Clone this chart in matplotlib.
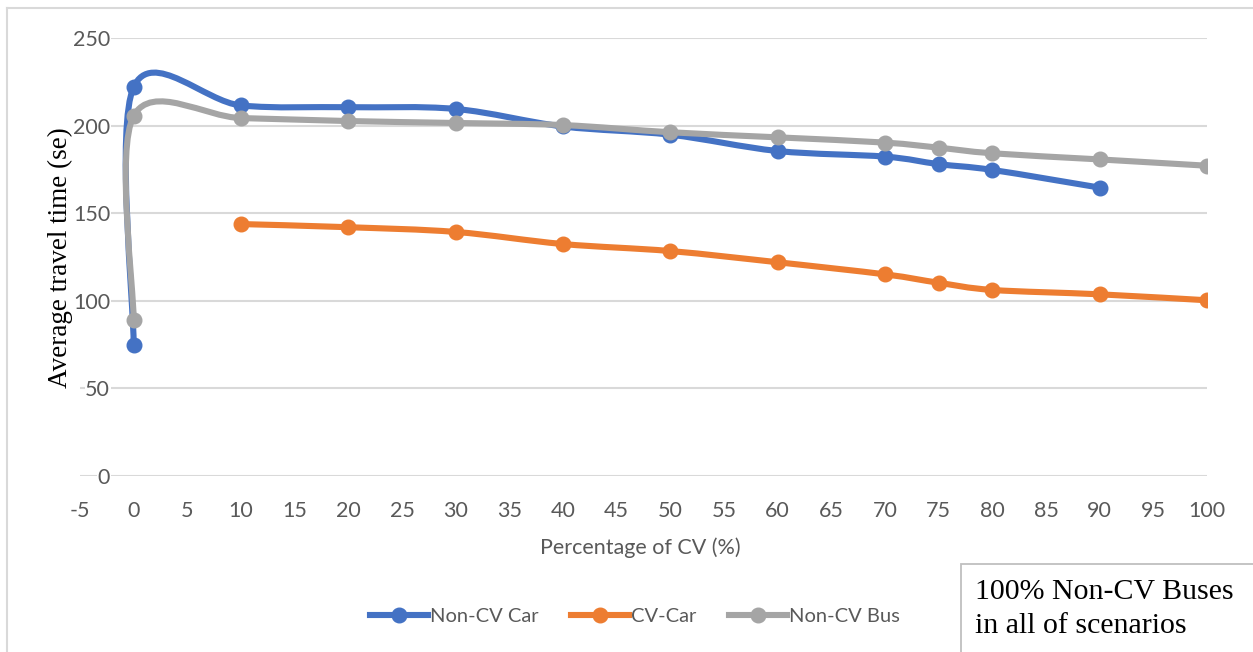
import matplotlib
matplotlib.use("Agg")
import matplotlib.pyplot as plt
from matplotlib.path import Path
from matplotlib.patches import PathPatch, Rectangle
from matplotlib.lines import Line2D
import numpy as np

# ---- data ----
noncv_car_x = [0, 0, 10, 20, 30, 40, 50, 60, 70, 75, 80, 90]
noncv_car_y = [75, 222, 211.5, 210.5, 209.5, 199.5, 194.8, 185.5, 182.3, 178, 174.7, 164.6]
cv_car_x = [10, 20, 30, 40, 50, 60, 70, 75, 80, 90, 100]
cv_car_y = [143.8, 142, 139.3, 132.4, 128.4, 122, 115.1, 110.3, 106.2, 103.7, 100.3]
noncv_bus_x = [0, 0, 10, 20, 30, 40, 50, 60, 70, 75, 80, 90, 100]
noncv_bus_y = [89, 205.5, 204.3, 202.6, 201.5, 200.3, 196.2, 193.3, 190.3, 187.4, 184.2, 180.7, 177.1]
series_names = ["Non-CV Car", "CV-Car", "Non-CV Bus"]
colors = ["#4472C4", "#ED7D31", "#A5A5A5"]
xticks = list(range(-5, 101, 5))
yticks = list(range(0, 251, 50))

W, H = 1253, 652
fig = plt.figure(figsize=(W / 100, H / 100), dpi=100)
ax = fig.add_axes([80 / W, 1 - 476 / H, (1207 - 80) / W, (476 - 38) / H])
ax.set_xlim(-5, 100)
ax.set_ylim(0, 250)

tick_font = "Lato"
tick_color = "#595959"


def smooth_path(xs, ys):
    pts = np.column_stack([xs, ys]).astype(float)
    n = len(pts)
    verts = [pts[0]]
    codes = [Path.MOVETO]
    for i in range(n - 1):
        p0 = pts[i - 1] if i > 0 else pts[i]
        p1 = pts[i]
        p2 = pts[i + 1]
        p3 = pts[i + 2] if i + 2 < n else pts[i + 1]
        c1 = p1 + (p2 - p0) / 6.0
        c2 = p2 - (p3 - p1) / 6.0
        verts += [c1, c2, p2]
        codes += [Path.CURVE4] * 3
    return Path(verts, codes)


lw = 4.4
ms = 10.5
for xs, ys, c, z in [(noncv_car_x, noncv_car_y, colors[0], 3),
                     (cv_car_x, cv_car_y, colors[1], 4),
                     (noncv_bus_x, noncv_bus_y, colors[2], 5)]:
    patch = PathPatch(smooth_path(xs, ys), facecolor="none", edgecolor=c,
                      linewidth=lw, zorder=z, capstyle="round", joinstyle="round")
    ax.add_patch(patch)
    ax.plot(xs, ys, linestyle="none", marker="o", markersize=ms, color=c, zorder=z)

# grid
ax.set_yticks(yticks)
ax.set_xticks(xticks)
ax.grid(axis="y", color="#D9D9D9", linewidth=1.5, zorder=0)
ax.set_axisbelow(True)
for s in ["top", "right", "bottom"]:
    ax.spines[s].set_visible(False)
ax.spines["left"].set_position(("data", 0))
ax.spines["left"].set_visible(False)
ax.tick_params(axis="both", length=0)
ax.tick_params(axis="y", pad=17)
ax.tick_params(axis="x", pad=18)
ax.set_xticklabels([str(v) for v in xticks], fontfamily=tick_font, fontsize=15.5, color=tick_color)
ax.set_yticklabels([str(v) for v in yticks], fontfamily=tick_font, fontsize=15.5, color=tick_color)
for lab in ax.get_yticklabels():
    lab.set_bbox(dict(facecolor="white", edgecolor="none", pad=0.5))
ax.patch.set_alpha(0)

# axis titles
fig.text(640 / W, 1 - 548 / H, "Percentage of CV (%)", ha="center", va="center",
         fontfamily=tick_font, fontsize=15.5, color=tick_color)
fig.text(60 / W, 1 - 258 / H, "Average travel time (se)", ha="center", va="center",
         rotation=90, fontfamily="Liberation Serif", fontsize=19.5, color="black")

# legend
handles = [Line2D([], [], color=c, linewidth=lw, marker="o", markersize=ms) for c in colors]
leg = fig.legend(handles, series_names, loc="center", bbox_to_anchor=(635 / W, 1 - 616 / H),
                 ncol=3, frameon=False, handlelength=2.9, handletextpad=0.1, columnspacing=1.6,
                 prop={"family": tick_font, "size": 14.5})
for t in leg.get_texts():
    t.set_color(tick_color)

# outer border (left and top)
fig.add_artist(Line2D([7 / W, 7 / W], [0, 1 - 8 / H], transform=fig.transFigure,
                      color="#D9D9D9", linewidth=1.5))
fig.add_artist(Line2D([7 / W, 1], [1 - 8 / H, 1 - 8 / H], transform=fig.transFigure,
                      color="#D9D9D9", linewidth=1.5))

# text box
fig.add_artist(Rectangle((961 / W, -0.01), (W + 5 - 961) / W, (652 - 564) / H + 0.01,
                         transform=fig.transFigure, facecolor="white", edgecolor="#BFBFBF",
                         linewidth=1.3))
fig.text(975 / W, 1 - 592 / H, "100% Non-CV Buses", ha="left", va="center",
         fontfamily="Liberation Serif", fontsize=21.5, color="black")
fig.text(975 / W, 1 - 626 / H, "in all of scenarios", ha="left", va="center",
         fontfamily="Liberation Serif", fontsize=21.5, color="black")

fig.savefig("out.png", dpi=100)
